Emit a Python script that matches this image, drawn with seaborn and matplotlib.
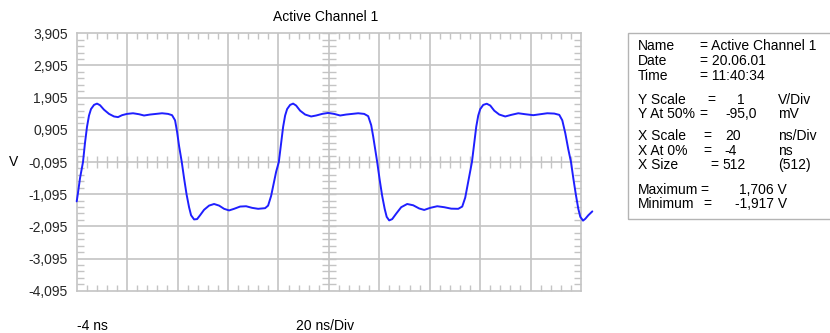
import pandas as pd
import seaborn as sns
import matplotlib.pyplot as plt
from matplotlib.patches import Rectangle


# waveform (time in ns, level in V)
time_ns = [-4.00, -3.48, -2.69, -1.50, -0.71, 0.09, 0.88, 1.67, 2.87, 4.06,
           5.25, 6.83, 8.82, 10.80, 12.39, 13.98, 15.96, 18.34, 20.72, 22.71,
           25.09, 27.47, 29.85, 32.23, 33.82, 35.01, 35.80, 36.60, 37.67, 38.58,
           39.57, 40.56, 41.36, 42.55, 43.74, 44.93, 46.52, 48.50, 50.48, 52.47,
           54.45, 56.44, 58.42, 60.80, 63.18, 65.56, 67.95, 70.72, 71.91, 73.10,
           74.30, 75.09, 76.16, 77.07, 77.87, 78.66, 79.45, 80.64, 81.83, 83.02,
           84.61, 86.60, 88.98, 90.96, 93.34, 95.72, 98.10, 100.49, 102.87, 105.25,
           107.63, 110.01, 111.60, 112.79, 113.58, 114.37, 115.17, 116.16, 117.15, 118.14,
           118.94, 119.93, 121.12, 122.71, 124.69, 127.07, 129.45, 131.84, 133.82, 136.20,
           138.98, 141.76, 144.53, 147.31, 148.90, 150.09, 151.28, 152.08, 152.75, 153.66,
           154.45, 155.25, 156.04, 157.23, 158.62, 160.01, 161.60, 163.58, 165.96, 168.34,
           171.12, 173.90, 177.07, 179.85, 182.63, 185.41, 187.39, 188.58, 189.77, 190.96,
           192.03, 192.95, 193.94, 194.93, 195.73, 196.80, 197.71, 198.90, 200.49]
volts = [-1.32, -1.05, -0.60, -0.095, 0.50, 1.00, 1.35, 1.55, 1.68, 1.72,
         1.67, 1.53, 1.40, 1.32, 1.30, 1.36, 1.40, 1.42, 1.39, 1.35,
         1.38, 1.40, 1.42, 1.40, 1.36, 1.20, 0.85, 0.40, -0.095, -0.60,
         -1.10, -1.50, -1.75, -1.88, -1.87, -1.75, -1.58, -1.45, -1.40, -1.45,
         -1.55, -1.60, -1.55, -1.48, -1.47, -1.52, -1.55, -1.53, -1.45, -1.15,
         -0.70, -0.40, -0.095, 0.50, 1.00, 1.35, 1.55, 1.68, 1.72, 1.66,
         1.50, 1.38, 1.32, 1.35, 1.40, 1.43, 1.40, 1.35, 1.38, 1.40,
         1.42, 1.40, 1.33, 1.05, 0.70, 0.30, -0.095, -0.65, -1.15, -1.55,
         -1.80, -1.91, -1.87, -1.70, -1.50, -1.40, -1.44, -1.54, -1.585, -1.52,
         -1.47, -1.50, -1.545, -1.55, -1.48, -1.20, -0.70, -0.35, -0.095, 0.50,
         1.00, 1.35, 1.55, 1.68, 1.716, 1.66, 1.50, 1.38, 1.32, 1.37,
         1.42, 1.39, 1.36, 1.39, 1.42, 1.41, 1.37, 1.20, 0.80, 0.30,
         -0.095, -0.60, -1.10, -1.55, -1.80, -1.917, -1.86, -1.75, -1.63]

y_ticks = [-4.095, -3.095, -2.095, -1.095, -0.095, 0.905, 1.905, 2.905, 3.905]
y_labels = ["-4,095", "-3,095", "-2,095", "-1,095", "-0,095",
            "0,905", "1,905", "2,905", "3,905"]
x_ticks = [-4, 16, 36, 56, 76, 96, 116, 136, 156, 176, 196]

header_labels = ["Name", "Date", "Time"]
header_values = ["= Active Channel 1", "= 20.06.01", "= 11:40:34"]
scale_labels = ["Y Scale", "Y At 50%", "X Scale", "X At 0%", "X Size"]
scale_values = ["1", "-95,0", "20", "-4", "512"]
scale_units = ["V/Div", "mV", "ns/Div", "ns", "(512)"]
extreme_labels = ["Maximum", "Minimum"]
extreme_values = ["1,706 V", "-1,917 V"]

W, H = 830, 333
FS = 10
GRID = "#c4c4c4"

sns.set_style("white")
plt.rcParams["font.family"] = ["Liberation Sans", "DejaVu Sans"]

fig = plt.figure(figsize=(W / 100, H / 100), dpi=100)
ax = fig.add_axes([76.7 / W, 1 - 290.7 / H, (581 - 76.7) / W, (290.7 - 33.3) / H])


# put text at screen pixel position
def put(px, py, s, ha="left"):
    fig.text(px / W, 1 - py / H, s, ha=ha, va="center", fontsize=FS, color="black")


ax.set_xlim(x_ticks[0], x_ticks[-1])
ax.set_ylim(y_ticks[0], y_ticks[-1])

# grid
for x in x_ticks[1:-1]:
    ax.axvline(x, color=GRID, lw=1.2, zorder=1)
for y in y_ticks[1:-1]:
    ax.axhline(y, color=GRID, lw=1.2, zorder=1)
for s in ax.spines.values():
    s.set_color(GRID)
    s.set_linewidth(1.2)

# minor ticks, 5 per division
minor_x = [x_ticks[0] + 4 * i for i in range(51)]
minor_y = [y_ticks[0] + 0.2 * i for i in range(41)]
ax.set_xticks(x_ticks)
ax.set_xticks(minor_x, minor=True)
ax.set_yticks(y_ticks)
ax.set_yticks(minor_y, minor=True)
ax.set_yticklabels(y_labels)
ax.set_xticklabels([])
ax.tick_params(which="major", length=0, labelsize=FS, pad=6.5)
ax.tick_params(which="minor", direction="in", color=GRID, width=1,
               top=True, right=True, bottom=True, left=True)
ax.tick_params(axis="x", which="minor", length=4)
ax.tick_params(axis="y", which="minor", length=5)

# centre cross ticks
xc, yc = x_ticks[5], y_ticks[4]
ax.vlines(minor_x, yc - 0.19, yc + 0.19, color=GRID, lw=1, zorder=1)
ax.hlines(minor_y, xc - 2.8, xc + 2.8, color=GRID, lw=1, zorder=1)

df = pd.DataFrame({"t": time_ns, "v": volts})
sns.lineplot(data=df, x="t", y="v", ax=ax, color="#1f1fff", lw=1.4,
             estimator=None, sort=False, zorder=3)
ax.lines[-1].set_clip_on(False)
ax.set_xlabel("")
ax.set_ylabel("")

put(326, 17, "Active Channel 1", ha="center")
put(9, 162, "V")
put(77, 326, "-4 ns")
put(296, 326, "20 ns/Div")

# info panel
fig.patches.append(Rectangle((627.7 / W, 1 - 219 / H), 210 / W, (219 - 32.7) / H,
                             transform=fig.transFigure, fill=False,
                             edgecolor="#b4b4b4", lw=1))

LX = 637.5
for i, (lab, val) in enumerate(zip(header_labels, header_values)):
    py = [46.5, 61, 75.5][i]
    put(LX, py, lab)
    put(700, py, val)

eq_x = [707, 699, 703, 703, 710]
val_x = [741, 741, 733, 731, 734]
for i in range(len(scale_labels)):
    py = [100, 114, 136.5, 151, 165.5][i]
    put(LX, py, scale_labels[i])
    put(eq_x[i], py, "=")
    put(val_x[i], py, scale_values[i], ha="center")
    put(778, py, scale_units[i])

for i in range(len(extreme_labels)):
    py = [190, 204][i]
    put(LX, py, extreme_labels[i])
    put([700, 703][i], py, "=")
    put(787, py, extreme_values[i], ha="right")

fig.savefig("out.png", dpi=100)
